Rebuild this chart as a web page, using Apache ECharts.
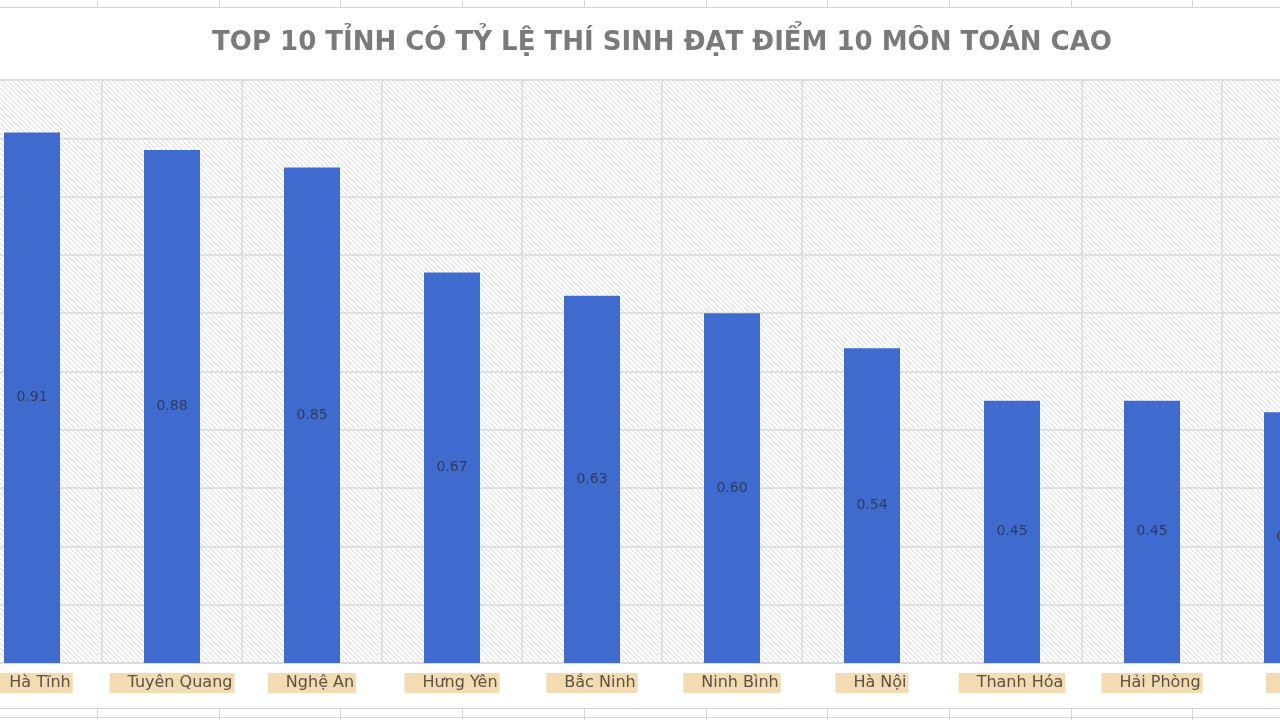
<!DOCTYPE html>
<html>
<head>
<meta charset="utf-8">
<script src="https://cdn.jsdelivr.net/npm/echarts@6/dist/echarts.min.js"></script>
<style>
  html, body { margin: 0; padding: 0; background: #ffffff; overflow: hidden; width: 1280px; height: 720px; }
  /* biểu đồ gốc bị cắt hai bên: đặt khung rộng hơn cửa sổ */
  #chart { position: absolute; left: -38px; top: 0; width: 1400px; height: 720px; }
</style>
</head>
<body>
<div id="chart"></div>
<script>
// dữ liệu
const provinces = ['Hà Tĩnh', 'Tuyên Quang', 'Nghệ An', 'Hưng Yên', 'Bắc Ninh', 'Ninh Bình', 'Hà Nội', 'Thanh Hóa', 'Hải Phòng', 'Huế']
const rates = [0.91, 0.88, 0.85, 0.67, 0.63, 0.60, 0.54, 0.45, 0.45, 0.43]
const titleText = 'TOP 10 TỈNH CÓ TỶ LỆ THÍ SINH ĐẠT ĐIỂM 10 MÔN TOÁN CAO'

// nền sọc chéo kiểu Excel
function makeHatch() {
  const c = document.createElement('canvas')
  c.width = 5
  c.height = 5
  const ctx = c.getContext('2d')
  ctx.fillStyle = '#ffffff'
  ctx.fillRect(0, 0, 5, 5)
  ctx.strokeStyle = '#dadada'
  ctx.lineWidth = 1
  ctx.beginPath()
  ctx.moveTo(-1, -1); ctx.lineTo(6, 6)
  ctx.moveTo(-1, 4); ctx.lineTo(1, 6)
  ctx.moveTo(4, -1); ctx.lineTo(6, 1)
  ctx.stroke()
  return c
}

// các đường ô bảng tính phía trên / dưới biểu đồ
function sheetLines() {
  const els = []
  const off = 38
  const lineStyle = { stroke: '#d4d4d4', lineWidth: 1 }
  els.push({ type: 'line', shape: { x1: 0, y1: 7.5, x2: 1400, y2: 7.5 }, style: lineStyle, silent: true })
  els.push({ type: 'line', shape: { x1: 0, y1: 708.5, x2: 1400, y2: 708.5 }, style: lineStyle, silent: true })
  els.push({ type: 'line', shape: { x1: 0, y1: 717.5, x2: 1400, y2: 717.5 }, style: lineStyle, silent: true })
  for (let x = 97; x < 1280; x += 121.7) {
    const xx = Math.round(x) + off + 0.5
    els.push({ type: 'line', shape: { x1: xx, y1: 0, x2: xx, y2: 7 }, style: lineStyle, silent: true })
    els.push({ type: 'line', shape: { x1: xx, y1: 709, x2: xx, y2: 720 }, style: lineStyle, silent: true })
  }
  return els
}

const chart = echarts.init(document.getElementById('chart'), null, { renderer: 'canvas' })
chart.setOption({
  backgroundColor: '#ffffff',
  animation: false,
  title: {
    text: titleText,
    left: 'center',
    top: 25,
    textStyle: {
      fontFamily: 'DejaVu Sans',
      fontWeight: 'bold',
      fontSize: 26,
      color: '#7a7a7a'
    }
  },
  graphic: sheetLines(),
  grid: {
    show: true,
    left: 0,
    right: 0,
    top: 80,
    bottom: 57,
    borderWidth: 0,
    backgroundColor: { image: makeHatch(), repeat: 'repeat' }
  },
  xAxis: {
    type: 'category',
    data: provinces,
    axisLine: { show: true, lineStyle: { color: '#d9d9d9', width: 1.5 } },
    axisTick: { show: false },
    splitLine: { show: true, interval: 0, lineStyle: { color: '#d9d9d9', width: 1.5 } },
    axisLabel: {
      interval: 0,
      margin: 10,
      fontFamily: 'DejaVu Sans',
      fontSize: 16,
      color: '#5b5244',
      backgroundColor: '#f3dcb2',
      padding: [2, 2, 2, 18]
    }
  },
  yAxis: {
    type: 'value',
    min: 0,
    max: 1,
    interval: 0.1,
    axisLabel: { show: false },
    axisLine: { show: false },
    axisTick: { show: false },
    splitLine: { show: true, lineStyle: { color: '#d9d9d9', width: 1.5 } }
  },
  series: [
    {
      type: 'bar',
      name: 'Tỷ lệ',
      barWidth: '40%',
      itemStyle: { color: '#3f6bcf' },
      label: {
        show: true,
        position: 'inside',
        fontFamily: 'DejaVu Sans',
        fontSize: 14,
        color: '#2f3b5c',
        formatter: p => p.value.toFixed(2)
      },
      data: rates
    }
  ]
})
</script>
</body>
</html>
